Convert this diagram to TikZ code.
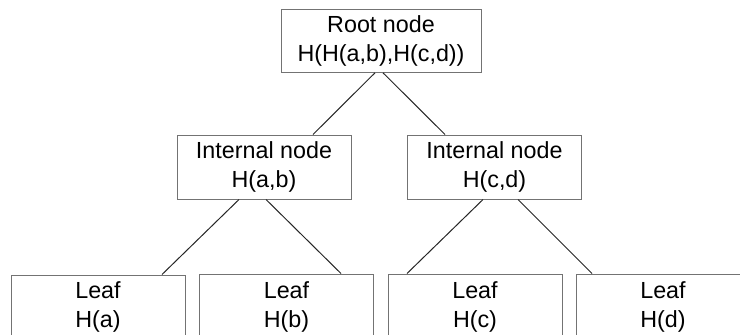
\documentclass[tikz,border=0pt]{standalone}
\usepackage{fontspec}
\setmainfont{Liberation Sans}
\usetikzlibrary{calc}

\begin{document}
\begin{tikzpicture}[x=1pt, y=-1pt,
		box/.style = {draw = black!55, line width = 1pt, inner sep = 0pt,
			minimum width = 174pt, minimum height = 64pt, align = center,
			font = \fontsize{23.3}{28.8}\selectfont},
		edge/.style = {draw = black!85, line width = 1pt}]
	\useasboundingbox (0,0) rectangle (740,335);

	\node [box, minimum width = 200pt, minimum height = 63pt] (root) at (381,40.8) {Root node\\H(H(a,b),H(c,d))};

	\node [box] (intab) at (264,167) {Internal node\\H(a,b)};
	\node [box] (intcd) at (494.5,167) {Internal node\\H(c,d)};

	\node [box] (leafa) at (98,307) {Leaf\\H(a)};
	\node [box, minimum height = 66pt] (leafb) at (286.5,307) {Leaf\\H(b)};
	\node [box, minimum height = 66pt] (leafc) at (475,307) {Leaf\\H(c)};
	\node [box, minimum height = 66pt] (leafd) at (663,307) {Leaf\\H(d)};

	\begin{scope}[edge]
		\draw ([xshift = -6pt] root.south) -- ([xshift = 49pt] intab.north);
		\draw ([xshift = 2pt] root.south) -- ([xshift = -49.5pt] intcd.north);

		\draw ([xshift = -25pt] intab.south) -- ([xshift = 64pt] leafa.north);
		\draw ([xshift = 2pt] intab.south) -- ([xshift = 54.5pt] leafb.north);
		\draw ([xshift = -11.5pt] intcd.south) -- ([xshift = -68pt] leafc.north);
		\draw ([xshift = 23.5pt] intcd.south) -- ([xshift = -71pt] leafd.north);
	\end{scope}
\end{tikzpicture}
\end{document}
